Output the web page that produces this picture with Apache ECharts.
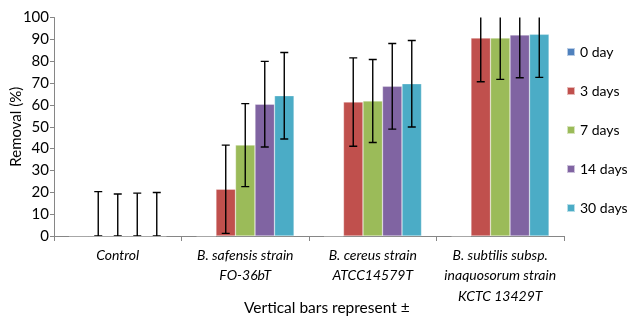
<!DOCTYPE html>
<html>
<head>
<meta charset="utf-8">
<script src="https://cdn.jsdelivr.net/npm/echarts@6/dist/echarts.min.js"></script>
<style>
  html, body { margin: 0; padding: 0; background: #fff; }
  #chart { width: 630px; height: 320px; }
</style>
</head>
<body>
<div id="chart"></div>
<script>
// categorías (cepas) y series (días)
let categorias = ['Control', 'B. safensis strain\nFO-36bT', 'B. cereus strain\nATCC14579T', 'B. subtilis subsp.\ninaquosorum strain\nKCTC 13429T'];
let nombres = ['0 day', '3 days', '7 days', '14 days', '30 days'];
let colores = ['#4F81BD', '#C0504D', '#9BBB59', '#8064A2', '#4BACC6'];
let yTicks = [0, 10, 20, 30, 40, 50, 60, 70, 80, 90, 100];

// valores de remoción (%)
let dia0 = [0, 0, 0, 0];
let dia3 = [0, 21.4, 61.3, 90.6];
let dia7 = [0, 41.6, 61.8, 90.6];
let dia14 = [0, 60.3, 68.5, 92.0];
let dia30 = [0, 64.2, 69.7, 92.3];

// desviación (barras de error), null = sin barra
let err0 = [null, null, null, null];
let err3 = [20.3, 20.2, 20.2, 20.0];
let err7 = [19.2, 19.0, 19.0, 18.9];
let err14 = [19.6, 19.6, 19.6, 19.6];
let err30 = [19.9, 19.8, 19.8, 19.7];

let valores = [dia0, dia3, dia7, dia14, dia30];
let errores = [err0, err3, err7, err14, err30];

let huecoCat = 0.235;
let fuente = 'Lato';

let chart = echarts.init(document.getElementById('chart'));

// dibuja la barra de error sobre cada barra
let barraError = (serieIdx) => (params, api) => {
    let cat = api.value(0);
    let val = api.value(1);
    let e = api.value(2);
    if (isNaN(e)) return null;
    let banda = api.size([1, 0])[0];
    let ancho = banda * (1 - huecoCat) / nombres.length;
    let dx = -banda * (1 - huecoCat) / 2 + (serieIdx + 0.5) * ancho;
    let base = api.coord([cat, val]);
    let x = base[0] + dx;
    let yTop = api.coord([cat, val + e])[1];
    let yBot = api.coord([cat, Math.max(val - e, 0)])[1];
    let cap = 4;
    let estilo = { stroke: '#000', lineWidth: 1.4 };
    return {
        type: 'group',
        children: [
            { type: 'line', shape: { x1: x, y1: yTop, x2: x, y2: yBot }, style: estilo },
            { type: 'line', shape: { x1: x - cap, y1: yTop, x2: x + cap, y2: yTop }, style: estilo },
            { type: 'line', shape: { x1: x - cap, y1: yBot, x2: x + cap, y2: yBot }, style: estilo }
        ]
    };
};

let series = [];
nombres.forEach((n, i) => {
    series.push({
        name: n,
        type: 'bar',
        data: valores[i],
        barGap: '0%',
        barCategoryGap: (huecoCat * 100) + '%',
        itemStyle: { color: colores[i], borderColor: 'rgba(255,255,255,0.6)', borderWidth: 0.5 },
        emphasis: { disabled: true }
    });
});
nombres.forEach((n, i) => {
    series.push({
        type: 'custom',
        clip: true,
        renderItem: barraError(i),
        data: valores[i].map((v, j) => [j, v, errores[i][j] === null ? NaN : errores[i][j]]),
        z: 10,
        silent: true
    });
});

let option = {
    animation: false,
    grid: { left: 54, right: 66, top: 17.5, bottom: 84, outerBoundsMode: 'none' },
    legend: {
        orient: 'vertical',
        left: 561,
        top: 40,
        data: nombres,
        icon: 'rect',
        itemWidth: 8,
        itemHeight: 8,
        itemGap: 25,
        textStyle: { fontFamily: fuente, fontSize: 14, color: '#000' }
    },
    xAxis: {
        type: 'category',
        data: categorias,
        axisLine: { lineStyle: { color: '#868686' } },
        axisTick: { show: true, length: 5, lineStyle: { color: '#868686' } },
        axisLabel: {
            interval: 0,
            margin: 9,
            fontFamily: fuente,
            fontStyle: 'italic',
            fontSize: 14,
            lineHeight: 20.5,
            color: '#000'
        }
    },
    yAxis: {
        type: 'value',
        min: yTicks[0],
        max: yTicks[yTicks.length - 1],
        interval: 10,
        name: 'Removal (%)',
        nameLocation: 'middle',
        nameGap: 30,
        nameMoveOverlap: false,
        nameTextStyle: { fontFamily: fuente, fontSize: 15, color: '#000' },
        axisLine: { show: true, lineStyle: { color: '#868686' } },
        axisTick: { show: true, length: 4, lineStyle: { color: '#868686' } },
        splitLine: { show: false },
        axisLabel: { fontFamily: fuente, fontSize: 15, color: '#000', margin: 5 }
    },
    graphic: [{
        type: 'text',
        left: 244,
        top: 300,
        style: { text: 'Vertical bars represent ±', fontFamily: fuente, fontSize: 15.5, fill: '#000' }
    }],
    series: series
};

option && chart.setOption(option);
window.addEventListener('resize', chart.resize);
</script>
</body>
</html>
